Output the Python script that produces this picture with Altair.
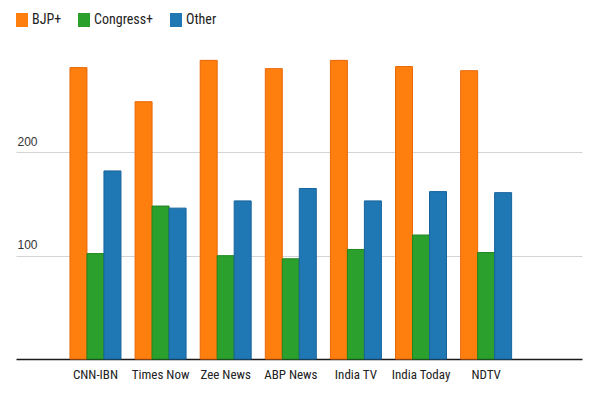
import altair as alt
import pandas as pd

channels = ["CNN-IBN", "Times Now", "Zee News", "ABP News", "India TV", "India Today", "NDTV"]
parties = ["BJP+", "Congress+", "Other"]
bjp = [282, 249, 289, 281, 289, 283, 279]
congress = [102, 148, 100, 97, 106, 120, 103]
other = [182, 146, 153, 165, 153, 162, 161]

fills = ["#FF7F0E", "#2CA02C", "#1F77B4"]
strokes = ["#E8680A", "#1E861E", "#17649C"]

rows = []
for party, vals in zip(parties, [bjp, congress, other]):
    for ch, v in zip(channels, vals):
        rows.append({"channel": ch, "party": party, "seats": v})
df = pd.DataFrame(rows)

label_font = "Liberation Sans Narrow, Arial Narrow, Roboto Condensed, sans-serif"

chart = alt.Chart(df).mark_bar(strokeWidth=1).encode(
    x=alt.X("channel:N", sort=channels, title=None,
            scale=alt.Scale(paddingInner=0.217, paddingOuter=0.955, align=0.434),
            axis=alt.Axis(labelAngle=0, ticks=False, tickSize=0, labelPadding=9,
                          domainColor="#1a1a1a", domainWidth=1.5,
                          labelFont=label_font, labelFontSize=13, labelColor="#222222",
                          grid=False)),
    xOffset=alt.XOffset("party:N", sort=parties,
                        scale=alt.Scale(paddingInner=0, paddingOuter=0)),
    y=alt.Y("seats:Q", title=None,
            scale=alt.Scale(domain=[0, 300], nice=False),
            axis=alt.Axis(values=[100, 200], domain=False, ticks=False, tickSize=0,
                          labelAlign="left", labelBaseline="bottom", labelPadding=-1,
                          labelOffset=-4, labelFont="Liberation Sans, Arial, sans-serif",
                          labelFontSize=12, labelColor="#333333",
                          gridColor="#d4d4d4", gridWidth=1)),
    color=alt.Color("party:N", sort=parties,
                    scale=alt.Scale(domain=parties, range=fills),
                    legend=alt.Legend(title=None, orient="none", direction="horizontal",
                                      legendX=-1, legendY=-36,
                                      symbolType="M-0.857,-1H0.857V1H-0.857Z",
                                      symbolSize=196, symbolStrokeWidth=0,
                                      labelFont=label_font, labelFontSize=14,
                                      labelColor="#222222", labelOffset=3,
                                      columnPadding=15)),
    stroke=alt.Stroke("party:N", sort=parties,
                      scale=alt.Scale(domain=parties, range=strokes),
                      legend=None),
).properties(
    width=566,
    height=310,
    autosize=alt.AutoSizeParams(type="none"),
    padding={"left": 8, "top": 41, "right": 10, "bottom": 33},
).configure_view(stroke=None)

chart.save("out.html", embed_options={"renderer": "svg", "actions": False})
